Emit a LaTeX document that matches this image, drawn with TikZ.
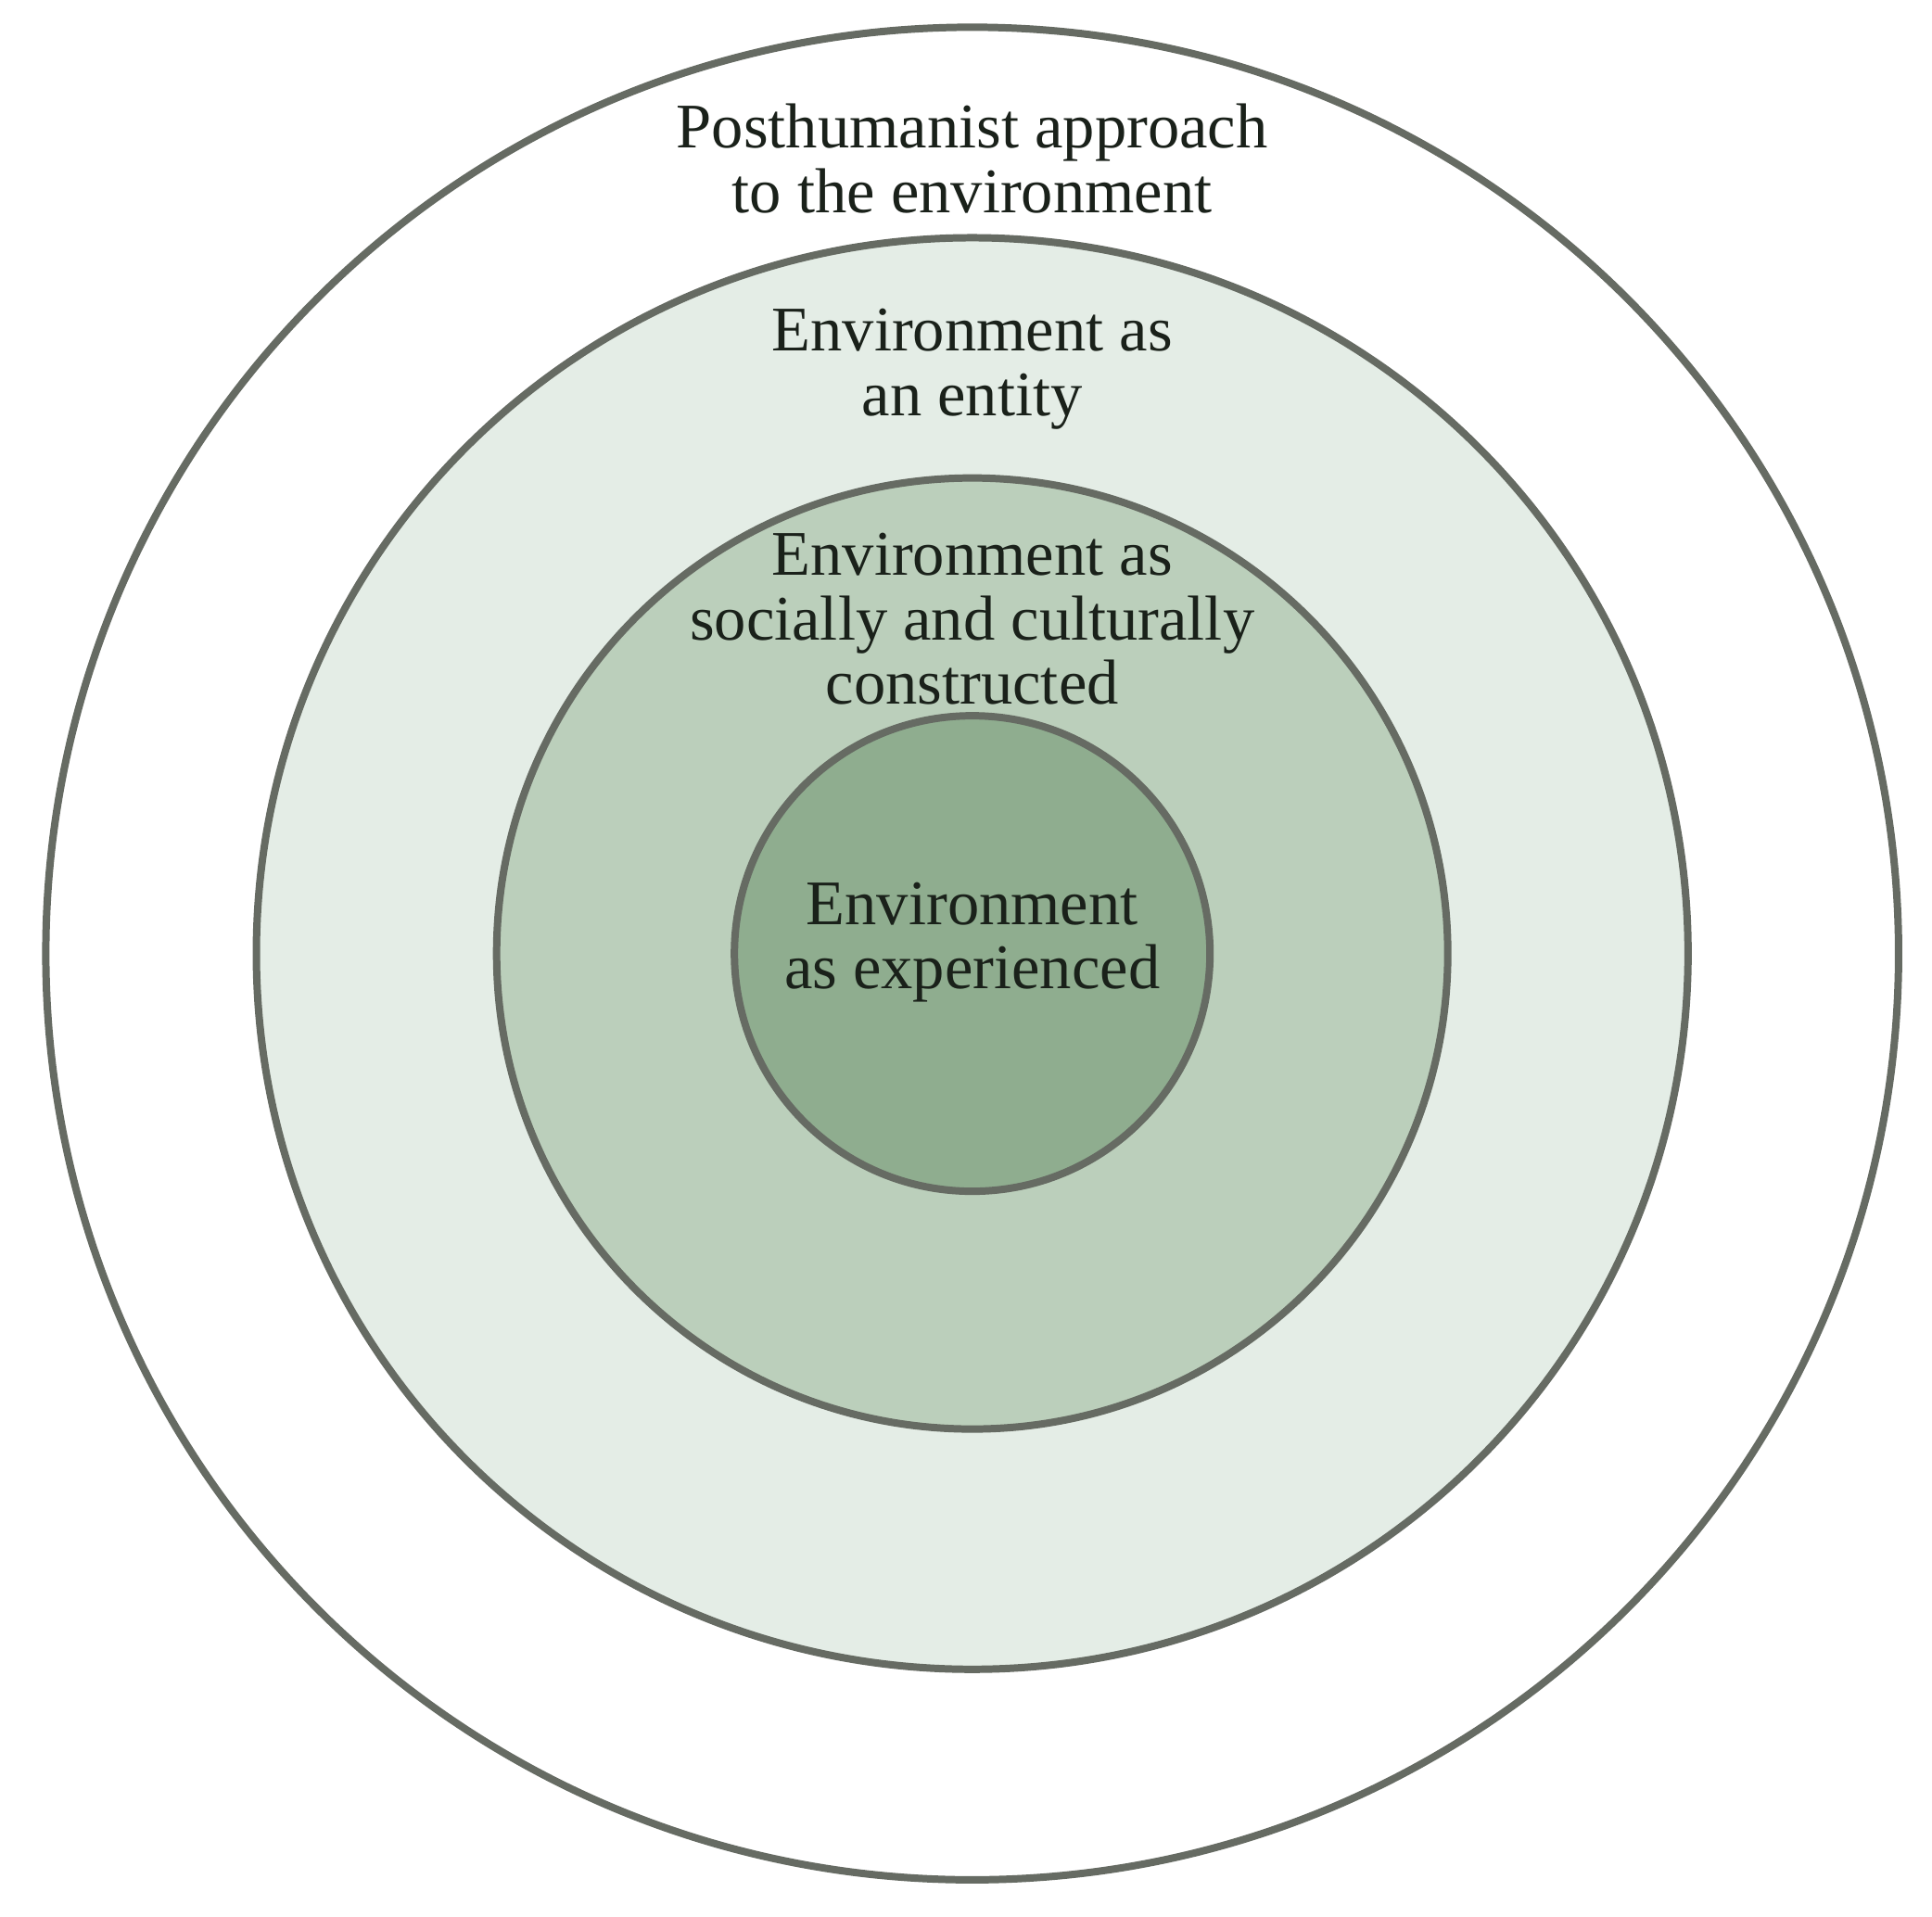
\documentclass[tikz,border=0pt]{standalone}
\usepackage{fontspec}
\setmainfont{Liberation Serif}
\definecolor{ringline}{HTML}{666B63}
\definecolor{ringA}{HTML}{E4EDE6}
\definecolor{ringB}{HTML}{BBCFBB}
\definecolor{ringC}{HTML}{8FAD8F}
\definecolor{labeltext}{HTML}{1A211A}
\begin{document}
\begin{tikzpicture}[
  ring/.style={circle, draw=ringline, line width=1.7pt, inner sep=0pt},
  label/.style={align=center, text=labeltext, font=\fontsize{14.6}{14.8}\selectfont}]
\useasboundingbox (-7.85,-7.78) rectangle (7.75,7.70);
% les cercles
\node[ring, fill=white, minimum size=14.96cm] (outer) at (0,0) {};
\node[ring, fill=ringA, minimum size=11.56cm] (entity) at (0,0) {};
\node[ring, fill=ringB, minimum size=7.68cm] (social) at (0,0) {};
\node[ring, fill=ringC, minimum size=3.84cm] (exper) at (0,0) {};
% les textes
\node[label] (tpost) at (0,6.42) {Posthumanist approach\\to the environment};
\node[label] (tentity) at (0,4.72) {Environment as\\an entity};
\node[label] (tsocial) at (0,2.70) {Environment as\\socially and culturally\\constructed};
\node[label] (texper) at (0,0.09) {Environment\\as experienced};
\end{tikzpicture}
\end{document}
